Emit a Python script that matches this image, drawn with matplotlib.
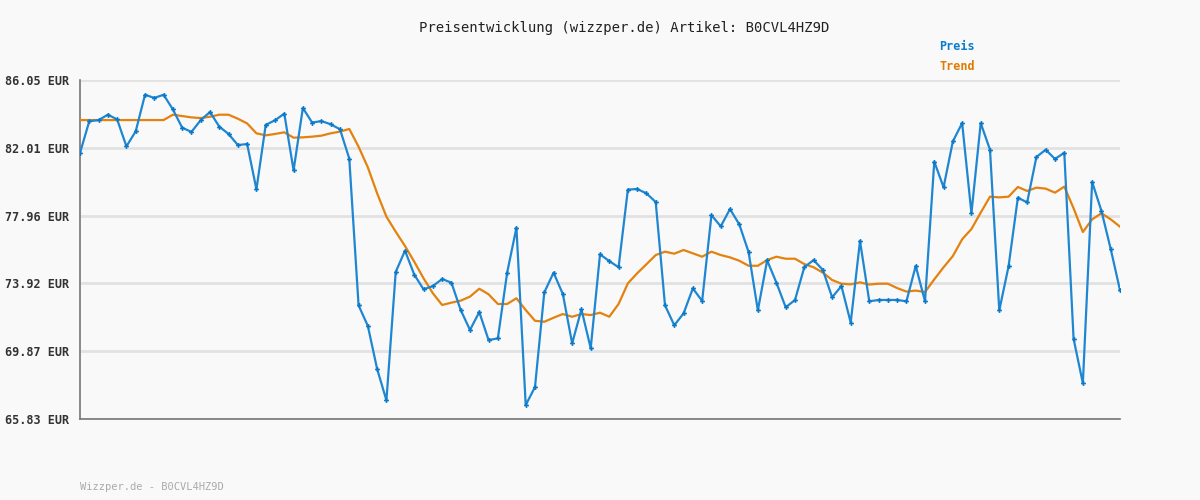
import matplotlib
matplotlib.use("Agg")
import matplotlib.pyplot as plt
import numpy as np

title = "Preisentwicklung (wizzper.de) Artikel: B0CVL4HZ9D"
footer = "Wizzper.de - B0CVL4HZ9D"
y_ticks = [65.83, 69.87, 73.92, 77.96, 82.01, 86.05]
y_labels = ["65.83 EUR", "69.87 EUR", "73.92 EUR", "77.96 EUR", "82.01 EUR", "86.05 EUR"]

preis = [
    81.70, 83.59, 83.66, 83.98, 83.70, 82.09, 82.99, 85.17, 84.98, 85.17,
    84.30, 83.21, 82.95, 83.66, 84.14, 83.27, 82.83, 82.17, 82.23, 79.53,
    83.37, 83.65, 84.04, 80.66, 84.38, 83.51, 83.60, 83.41, 83.11, 81.36,
    72.61, 71.38, 68.81, 66.94, 74.60, 75.87, 74.44, 73.56, 73.76, 74.18,
    73.96, 72.33, 71.14, 72.21, 70.54, 70.64, 74.56, 77.24, 66.66, 67.74,
    73.38, 74.56, 73.28, 70.34, 72.37, 70.05, 75.65, 75.25, 74.88, 79.51,
    79.55, 79.29, 78.77, 72.61, 71.42, 72.13, 73.62, 72.87, 77.99, 77.32,
    78.35, 77.44, 75.79, 72.31, 75.29, 73.96, 72.49, 72.93, 74.88, 75.31,
    74.72, 73.09, 73.76, 71.58, 76.45, 72.85, 72.93, 72.93, 72.93, 72.85,
    74.96, 72.85, 81.18, 79.65, 82.39, 83.48, 78.10, 83.48, 81.89, 72.31,
    74.94, 79.03, 78.75, 81.46, 81.89, 81.34, 81.71, 70.62, 67.96, 79.97,
    78.24, 75.97, 73.51,
]

trend = [
    83.66, 83.66, 83.66, 83.66, 83.66, 83.66, 83.66, 83.66, 83.66, 83.66,
    83.98, 83.90, 83.82, 83.78, 83.86, 83.98, 83.98, 83.74, 83.46, 82.87,
    82.75, 82.83, 82.93, 82.61, 82.63, 82.67, 82.73, 82.87, 82.97, 83.13,
    82.07, 80.84, 79.29, 77.90, 77.00, 76.15, 75.21, 74.22, 73.33, 72.63,
    72.77, 72.89, 73.13, 73.60, 73.27, 72.69, 72.69, 73.03, 72.33, 71.69,
    71.63, 71.87, 72.09, 71.93, 72.09, 72.03, 72.17, 71.93, 72.69, 73.92,
    74.52, 75.06, 75.61, 75.81, 75.69, 75.91, 75.71, 75.51, 75.81, 75.61,
    75.47, 75.27, 74.97, 74.97, 75.31, 75.51, 75.39, 75.39, 75.07, 74.88,
    74.56, 74.12, 73.90, 73.86, 73.98, 73.85, 73.90, 73.90, 73.64, 73.43,
    73.49, 73.40, 74.16, 74.88, 75.55, 76.55, 77.16, 78.14, 79.09, 79.05,
    79.09, 79.67, 79.43, 79.63, 79.57, 79.33, 79.69, 78.40, 76.98, 77.74,
    78.10, 77.74, 77.30,
]

bg = "#f9f9f9"
blue = "#1f86d2"
orange = "#e3820f"
mono = "DejaVu Sans Mono"

fig = plt.figure(figsize=(12, 5), dpi=100, facecolor=bg)
ax = fig.add_axes([80 / 1200, 81 / 500, 1040 / 1200, 339 / 500], facecolor=bg)

x = np.arange(len(preis))
ax.plot(x, trend, color=orange, lw=1.6, zorder=3)
ax.plot(x, preis, color=blue, lw=1.6, marker="P", markersize=3.5,
        markeredgewidth=0, markerfacecolor="#0a78c8", zorder=4)

ax.set_xlim(0, len(preis) - 1)
ax.set_ylim(y_ticks[0], y_ticks[-1])
ax.set_yticks(y_ticks)
ax.set_yticklabels(y_labels, family=mono, fontsize=8.5, color="#333333",
                   fontweight="bold")
ax.set_xticks([])
ax.tick_params(axis="y", length=0, pad=8)
ax.grid(axis="y", color="#e2e2e2", lw=2, zorder=0)
for s in ["top", "right"]:
    ax.spines[s].set_visible(False)
for s in ["left", "bottom"]:
    ax.spines[s].set_color("#777777")
    ax.spines[s].set_linewidth(1.2)

fig.text(624 / 1200, 1 - 28 / 500, title, ha="center", va="center",
         family=mono, fontsize=10, color="#222222")
fig.text(939 / 1200, 1 - 47 / 500, "Preis", ha="left", va="center",
         family=mono, fontsize=8.5, color="#0a7ccc", fontweight="bold")
fig.text(939 / 1200, 1 - 67 / 500, "Trend", ha="left", va="center",
         family=mono, fontsize=8.5, color="#e07b00", fontweight="bold")
fig.text(80 / 1200, 1 - 487 / 500, footer, ha="left", va="center",
         family=mono, fontsize=7.5, color="#aaaaaa")

fig.savefig("out.png", dpi=100, facecolor=bg)
